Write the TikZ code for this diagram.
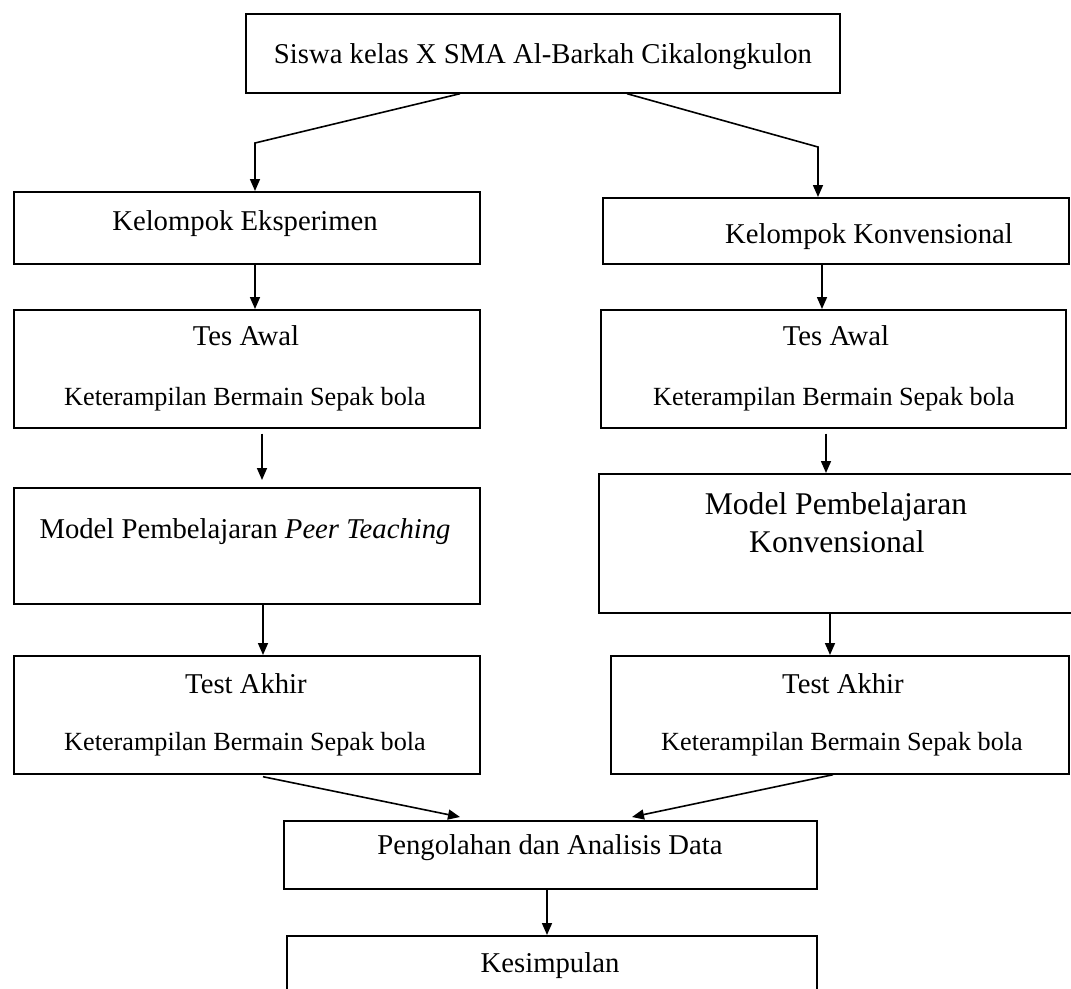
\documentclass[tikz,border=0pt]{standalone}
\usepackage{fontspec}
\setmainfont{Liberation Serif}
\usetikzlibrary{arrows.meta}
\begin{document}
\begin{tikzpicture}[x=1pt,y=-1pt,
  box/.style={draw=black,line width=1.7pt,inner sep=0pt,anchor=north west},
  lbl/.style={anchor=base,inner sep=0pt,font=\fontsize{28.7}{34}\selectfont},
  sml/.style={anchor=base,inner sep=0pt,font=\fontsize{26.2}{31}\selectfont},
  big/.style={anchor=base,inner sep=0pt,font=\fontsize{31.6}{38}\selectfont},
  arr/.style={draw=black,line width=1.6pt,-{Triangle[length=12pt,width=10pt]}}]
\useasboundingbox (0,0) rectangle (1071,988);
\clip (0,0) rectangle (1071,988);
% boxes
\node[box,minimum width=594pt,minimum height=79pt] (top) at (245,13) {};
\node[box,minimum width=466pt,minimum height=72pt] (ke) at (13,191) {};
\node[box,minimum width=466pt,minimum height=118pt] (ta1) at (13,309) {};
\node[box,minimum width=466pt,minimum height=116pt] (mp1) at (13,487) {};
\node[box,minimum width=466pt,minimum height=118pt] (tk1) at (13,655) {};
\node[box,minimum width=466pt,minimum height=66pt] (kk) at (602,197) {};
\node[box,minimum width=465pt,minimum height=118pt] (ta2) at (600,309) {};
\node[box,minimum width=482pt,minimum height=139pt] (mp2) at (598,473) {};
\node[box,minimum width=458pt,minimum height=118pt] (tk2) at (610,655) {};
\node[box,minimum width=533pt,minimum height=68pt] (pa) at (283,820) {};
\node[box,minimum width=530pt,minimum height=70pt] (ks) at (286,935) {};
% texts
\node[lbl] (topt) at (543,63) {Siswa kelas X SMA Al-Barkah Cikalongkulon};
\node[lbl] (ket) at (245,230) {Kelompok Eksperimen};
\node[lbl] (kkt) at (869,243) {Kelompok Konvensional};
\node[lbl] (ta1a) at (246,345) {Tes Awal};
\node[sml] (ta1b) at (245,405) {Keterampilan Bermain Sepak bola};
\node[lbl] (ta2a) at (836,345) {Tes Awal};
\node[sml] (ta2b) at (834,405) {Keterampilan Bermain Sepak bola};
\node[lbl] (mp1t) at (245,538) {Model Pembelajaran \textit{Peer Teaching}};
\node[big] (mp2a) at (836,514) {Model Pembelajaran};
\node[big] (mp2b) at (837,552) {Konvensional};
\node[lbl] (tk1a) at (246,693) {Test Akhir};
\node[sml] (tk1b) at (245,750) {Keterampilan Bermain Sepak bola};
\node[lbl] (tk2a) at (843,693) {Test Akhir};
\node[sml] (tk2b) at (842,750) {Keterampilan Bermain Sepak bola};
\node[lbl] (pat) at (550,854) {Pengolahan dan Analisis Data};
\node[lbl] (kst) at (550,972) {Kesimpulan};
% connectors
\draw[arr] ([xshift=215pt]top.south west) -- ([xshift=242pt,yshift=48pt]ke.north west) -- ([xshift=242pt]ke.north west);
\draw[arr] ([xshift=382pt]top.south west) -- ([xshift=216pt,yshift=50pt]kk.north west) -- ([xshift=216pt]kk.north west);
\draw[arr] ([xshift=242pt]ke.south west) -- ([xshift=242pt]ta1.north west);
\draw[arr] ([xshift=220pt]kk.south west) -- ([xshift=222pt]ta2.north west);
\draw[arr] ([xshift=249pt,yshift=-5pt]ta1.south west) -- ([xshift=249pt,yshift=7pt]mp1.north west);
\draw[arr] ([xshift=226pt,yshift=-5pt]ta2.south west) -- ([xshift=228pt]mp2.north west);
\draw[arr] ([xshift=250pt]mp1.south west) -- ([xshift=250pt]tk1.north west);
\draw[arr] ([xshift=232pt]mp2.south west) -- ([xshift=220pt]tk2.north west);
\draw[arr] ([xshift=250pt,yshift=-2pt]tk1.south west) -- ([xshift=177pt,yshift=3pt]pa.north west);
\draw[arr] ([xshift=223pt]tk2.south west) -- ([xshift=349pt,yshift=3pt]pa.north west);
\draw[arr] ([xshift=264pt]pa.south west) -- ([xshift=261pt]ks.north west);
\end{tikzpicture}
\end{document}
